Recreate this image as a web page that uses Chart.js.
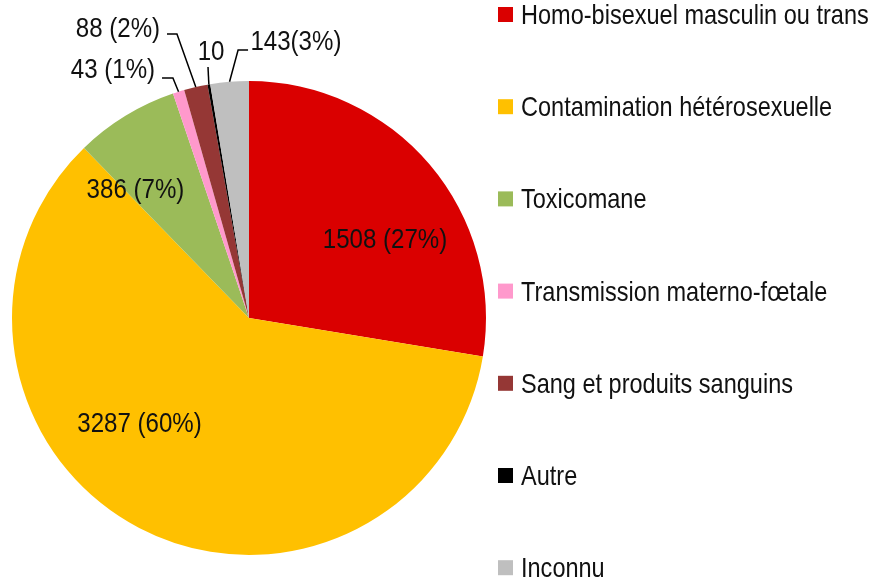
<!DOCTYPE html>
<html>
<head>
<meta charset="utf-8">
<script src="https://cdn.jsdelivr.net/npm/chart.js@4/dist/chart.umd.min.js"></script>
<style>
  html, body { margin: 0; padding: 0; background: #fff; }
  #wrap { width: 887px; height: 578px; position: relative; }
</style>
</head>
<body>
<div id="wrap"><canvas id="pie"></canvas></div>
<script>
// data
const categories = [
  "Homo-bisexuel masculin ou trans",
  "Contamination hétérosexuelle",
  "Toxicomane",
  "Transmission materno-fœtale",
  "Sang et produits sanguins",
  "Autre",
  "Inconnu"
];
const counts = [1508, 3287, 386, 43, 88, 10, 143];
const labelTexts = ["1508 (27%)", "3287 (60%)", "386 (7%)", "43 (1%)", "88 (2%)", "10", "143(3%)"];
const sliceColors = ["#DA0000", "#FFC000", "#9BBB59", "#FF99CC", "#953735", "#000000", "#BFBFBF"];

// label placement, offsets from pie centre in radius units
const labelPos = [
  [0.574, -0.338], [-0.462, 0.439], [-0.479, -0.549],
  [-0.574, -1.055], [-0.553, -1.228], [-0.160, -1.131], [0.198, -1.173]
];
// leader line points before reaching the slice edge (null = inside label)
const leaders = [
  null, null, null,
  [[-0.367, -1.013], [-0.321, -1.013]],
  [[-0.346, -1.198], [-0.304, -1.198]],
  [[-0.173, -1.059]],
  [[-0.004, -1.131], [-0.046, -1.131]]
];

// no narrow font installed, so squeeze Liberation Sans like Arial Narrow
const FONT = "28px 'Arial Narrow', 'Liberation Sans', Arial, sans-serif";

function narrowText(ctx, text, x, y, align, squeeze) {
  ctx.save();
  ctx.translate(x, y);
  ctx.scale(squeeze, 1);
  ctx.font = FONT;
  ctx.textAlign = align;
  ctx.textBaseline = "alphabetic";
  ctx.fillStyle = "#111";
  ctx.fillText(text, 0, 0);
  ctx.restore();
}

const labelPlugin = {
  id: "sliceLabels",
  afterDatasetsDraw(chart) {
    const ctx = chart.ctx;
    const arcs = chart.getDatasetMeta(0).data;
    arcs.forEach((arc, i) => {
      const r = arc.outerRadius;
      const cx = arc.x, cy = arc.y;
      if (leaders[i]) {
        const mid = (arc.startAngle + arc.endAngle) / 2;
        ctx.save();
        ctx.beginPath();
        leaders[i].forEach((p, k) => {
          const x = cx + p[0] * r, y = cy + p[1] * r;
          if (k === 0) ctx.moveTo(x, y); else ctx.lineTo(x, y);
        });
        ctx.lineTo(cx + Math.cos(mid) * r, cy + Math.sin(mid) * r);
        ctx.strokeStyle = "#000";
        ctx.lineWidth = 1.5;
        ctx.stroke();
        ctx.restore();
      }
      narrowText(ctx, labelTexts[i], cx + labelPos[i][0] * r, cy + labelPos[i][1] * r + 10, "center", 0.86);
    });
  }
};

const legendPlugin = {
  id: "sideLegend",
  afterDraw(chart) {
    const ctx = chart.ctx;
    categories.forEach((name, i) => {
      const y = 14.5 + i * 92.2;
      ctx.fillStyle = sliceColors[i];
      ctx.fillRect(498, y - 7.5, 15, 15);
      narrowText(ctx, name, 521, y + 9.5, "left", 0.84);
    });
  }
};

new Chart(document.getElementById("pie"), {
  type: "pie",
  data: {
    labels: categories,
    datasets: [{
      data: counts,
      backgroundColor: sliceColors,
      borderWidth: 0
    }]
  },
  options: {
    responsive: true,
    maintainAspectRatio: false,
    animation: false,
    layout: { padding: { left: 12, right: 401, top: 81, bottom: 23 } },
    plugins: {
      legend: { display: false },
      tooltip: { enabled: false }
    }
  },
  plugins: [labelPlugin, legendPlugin]
});
</script>
</body>
</html>
